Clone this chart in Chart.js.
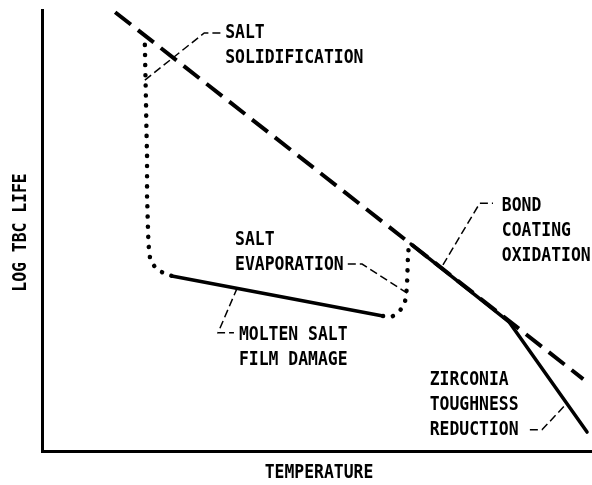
<!DOCTYPE html>
<html>
<head>
<meta charset="utf-8">
<script src="https://cdn.jsdelivr.net/npm/chart.js@4"></script>
<style>
  html, body { margin: 0; padding: 0; background: #fff; }
  #wrap { width: 592px; height: 485px; }
</style>
</head>
<body>
<div id="wrap"><canvas id="chart" width="592" height="485"></canvas></div>
<script>
// schematic chart, both axes in arbitrary 0-100 units (no ticks)
const xTitle = 'TEMPERATURE';
const yTitle = 'LOG TBC LIFE';

// intrinsic life line (dashed)
const baseTemp = [13.3, 98.4];
const baseLife = [99.5, 16.3];

// bond coating oxidation (solid)
const bondTemp = [67.1, 84.9];
const bondLife = [46.9, 29.3];

// zirconia toughness reduction (solid)
const zircTemp = [84.9, 99.1];
const zircLife = [29.3, 4.3];

// molten salt film damage (solid)
const moltenTemp = [23.6, 62.0];
const moltenLife = [39.7, 30.6];

// salt solidification transition (dotted)
const solidTemp = [18.7, 18.9, 19.1, 19.1, 19.3, 19.5, 20.2, 21.5, 23.6];
const solidLife = [92.1, 79.6, 68.3, 56.9, 49.0, 45.1, 42.4, 40.8, 39.7];

// salt evaporation transition (dotted)
const evapTemp = [62.0, 63.3, 64.5, 65.6, 66.2, 66.4, 66.5, 66.7];
const evapLife = [30.6, 30.4, 31.3, 32.9, 35.4, 38.8, 42.9, 46.7];

// annotation leaders
const leaderSolidT = [18.7, 29.5, 32.7];
const leaderSolidL = [84.1, 94.8, 94.8];
const leaderEvapT = [55.6, 58.2, 66.4];
const leaderEvapL = [42.4, 42.4, 35.8];
const leaderBondT = [72.9, 79.6, 82.0];
const leaderBondL = [42.2, 56.2, 56.2];
const leaderMoltenT = [35.5, 32.0, 34.9];
const leaderMoltenL = [37.0, 26.8, 26.8];
const leaderZircT = [88.7, 90.9, 95.5];
const leaderZircL = [4.8, 4.8, 10.9];

// annotation text: lines, anchor temp, anchor life of first line
const notes = [
  { lines: ['SALT', 'SOLIDIFICATION'], t: 33.3, l: 94.8 },
  { lines: ['SALT', 'EVAPORATION'], t: 35.1, l: 47.8 },
  { lines: ['MOLTEN SALT', 'FILM DAMAGE'], t: 35.8, l: 26.3 },
  { lines: ['BOND', 'COATING', 'OXIDATION'], t: 83.6, l: 55.6 },
  { lines: ['ZIRCONIA', 'TOUGHNESS', 'REDUCTION'], t: 70.5, l: 16.1 }
];

function pts(xs, ys) {
  return xs.map((x, i) => ({ x, y: ys[i] }));
}

const FONT = 'bold 20px "DejaVu Sans Mono"';
const SQUEEZE = 0.82;
const LINE_GAP = 25;

function drawLabel(ctx, text, x, y, align) {
  ctx.save();
  ctx.translate(x, y);
  ctx.scale(SQUEEZE, 1);
  ctx.textAlign = align;
  ctx.fillText(text, 0, 0);
  ctx.restore();
}

const textPlugin = {
  id: 'notes',
  afterDraw(chart) {
    const { ctx, scales, chartArea } = chart;
    ctx.save();
    ctx.fillStyle = '#000';
    ctx.font = FONT;
    ctx.textBaseline = 'middle';
    notes.forEach(n => {
      const x = scales.x.getPixelForValue(n.t);
      const y = scales.y.getPixelForValue(n.l);
      n.lines.forEach((s, i) => drawLabel(ctx, s, x, y + i * LINE_GAP, 'left'));
    });
    // axis titles
    drawLabel(ctx, xTitle, (chartArea.left + chartArea.right) / 2 + 2, chartArea.bottom + 22, 'center');
    ctx.save();
    ctx.translate(chartArea.left - 21, (chartArea.top + chartArea.bottom) / 2 + 2);
    ctx.rotate(-Math.PI / 2);
    drawLabel(ctx, yTitle, 0, 0, 'center');
    ctx.restore();
    ctx.restore();
  }
};

const solid = { borderColor: '#000', borderWidth: 3.5, pointRadius: 0, showLine: true, borderCapStyle: 'round' };
const dotted = { borderColor: '#000', borderWidth: 4.5, pointRadius: 0, showLine: true,
  borderCapStyle: 'round', borderDash: [0.1, 10], cubicInterpolationMode: 'monotone' };
const leader = { borderColor: '#000', borderWidth: 1.5, pointRadius: 0, showLine: true, borderDash: [8, 4] };

new Chart(document.getElementById('chart'), {
  type: 'scatter',
  data: {
    datasets: [
      { ...solid, data: pts(bondTemp, bondLife) },
      { ...solid, data: pts(zircTemp, zircLife) },
      { ...solid, data: pts(moltenTemp, moltenLife) },
      { ...dotted, data: pts(solidTemp, solidLife) },
      { ...dotted, data: pts(evapTemp, evapLife) },
      { ...leader, data: pts(leaderSolidT, leaderSolidL) },
      { ...leader, data: pts(leaderEvapT, leaderEvapL) },
      { ...leader, data: pts(leaderBondT, leaderBondL) },
      { ...leader, data: pts(leaderMoltenT, leaderMoltenL) },
      { ...leader, data: pts(leaderZircT, leaderZircL) },
      { borderColor: '#000', borderWidth: 4, pointRadius: 0, showLine: true, borderDash: [20, 9],
        data: pts(baseTemp, baseLife) }
    ]
  },
  options: {
    responsive: false,
    animation: false,
    layout: { padding: { left: 42, top: 10, right: 0, bottom: 34 } },
    plugins: { legend: { display: false }, tooltip: { enabled: false } },
    scales: {
      x: {
        type: 'linear', min: 0, max: 100,
        grid: { display: false, drawTicks: false },
        ticks: { display: false },
        border: { display: true, width: 3, color: '#000' }
      },
      y: {
        type: 'linear', min: 0, max: 100,
        grid: { display: false, drawTicks: false },
        ticks: { display: false },
        border: { display: true, width: 3, color: '#000' }
      }
    }
  },
  plugins: [textPlugin]
});
</script>
</body>
</html>
